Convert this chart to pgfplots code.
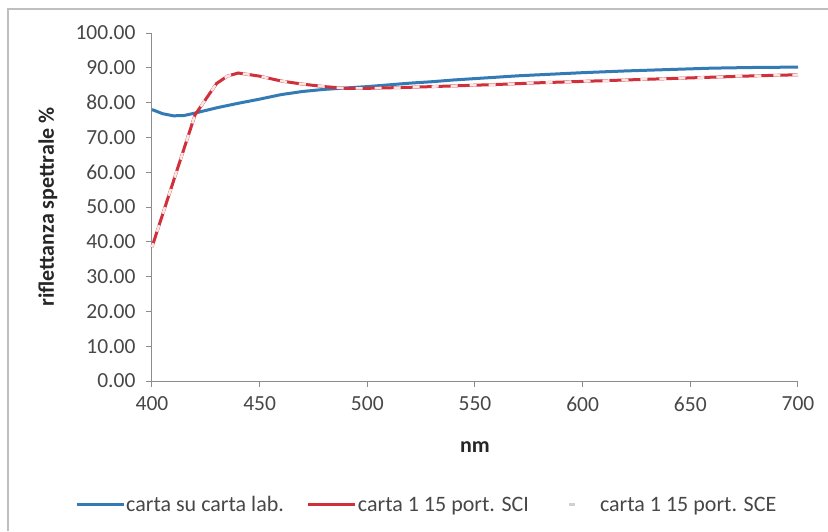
\documentclass[border=0pt]{standalone}
\usepackage{pgfplots}
\pgfplotsset{compat=1.18}
\usepackage{fontspec}
\setmainfont{Carlito}
\definecolor{cblue}{RGB}{52,122,180}
\definecolor{cred}{RGB}{208,48,58}
\definecolor{cpale}{RGB}{252,228,228}
\definecolor{caxis}{RGB}{140,140,140}
\begin{document}
\begin{tikzpicture}
\begin{axis}[
  scale only axis, width=646pt, height=348pt,
  xmin=400, xmax=700, ymin=0, ymax=100,
  xtick={400,450,...,700}, ytick={0,10,...,100},
  axis x line*=bottom, axis y line*=left,
  axis line style={caxis, line width=1pt},
  tick style={caxis, line width=1pt},
  tick align=outside, major tick length=6pt,
  /pgf/number format/assume math mode=true,
  yticklabel style={/pgf/number format/fixed, /pgf/number format/fixed zerofill, /pgf/number format/precision=2, xshift=-7pt},
  xticklabel style={/pgf/number format/fixed, /pgf/number format/1000 sep={}, yshift=-6pt},
  ticklabel style={font=\fontsize{21.5}{24}\selectfont, text=black!72},
  xlabel={nm}, ylabel={riflettanza spettrale \%},
  every axis x label/.style={at={(rel axis cs:0.5,0)}, yshift=-66pt, anchor=center, font=\fontsize{22}{24}\selectfont\bfseries, text=black!85},
  every axis y label/.style={at={(rel axis cs:0,0.5)}, xshift=-104pt, rotate=90, anchor=center, font=\fontsize{22}{24}\selectfont\bfseries, text=black!85},
  clip=false,
  legend columns=3,
  legend style={at={(rel axis cs:-0.1192,-0.3563)}, anchor=west, draw=none, fill=none,
    inner sep=0pt, nodes={inner sep=1pt},
    font=\fontsize{22}{24}\selectfont, text=black!72,
    /tikz/every even column/.append style={column sep=22pt}},
  legend cell align=left,
  legend image code/.code={\draw[#1, line width=3pt] (0pt,0pt) -- (47pt,0pt);},
]
\addplot[cblue, line width=3pt] coordinates {
(400,78.0)(405,76.8)(410,76.2)(415,76.3)(420,77.0)(430,78.5)(440,79.8)(450,81.0)
(460,82.3)(470,83.2)(480,83.8)(490,84.2)(500,84.6)(510,85.1)(520,85.6)(530,86.0)
(540,86.5)(550,86.9)(560,87.3)(570,87.7)(580,88.0)(590,88.3)(600,88.6)(620,89.1)
(640,89.5)(660,89.9)(680,90.1)(700,90.2)};
\addlegendentry{carta su carta lab.}
\addplot[cred, line width=3pt] coordinates {
(400,38.5)(410,57.5)(420,76.5)(430,85.5)(435,87.6)(440,88.5)(450,87.6)(460,86.2)(470,85.3)
(480,84.6)(490,84.1)(500,84.1)(520,84.4)(540,84.8)(560,85.2)(580,85.7)(600,86.1)
(620,86.5)(640,86.9)(660,87.3)(680,87.7)(700,88.0)};
\addlegendentry{carta 1 15 port. SCI}
\addplot[cpale, line width=2.6pt, dash pattern=on 7pt off 12pt, dash phase=3pt,
  legend image code/.code={\path[draw=none] (0pt,0pt) -- (47pt,0pt); \draw[solid, black!18, line width=3pt] (17pt,0pt) -- (23pt,0pt);}] coordinates {
(400,38.5)(410,57.5)(420,76.5)(430,85.5)(435,87.6)(440,88.5)(450,87.6)(460,86.2)(470,85.3)
(480,84.6)(490,84.1)(500,84.1)(520,84.4)(540,84.8)(560,85.2)(580,85.7)(600,86.1)
(620,86.5)(640,86.9)(660,87.3)(680,87.7)(700,88.0)};
\addlegendentry{carta 1 15 port. SCE}
\end{axis}
\useasboundingbox (-152pt,-150pt) rectangle (676pt,381pt);
\draw[black!25, line width=1.5pt] (-144pt,-150pt) -- (-144pt,372pt) -- (676pt,372pt);
\end{tikzpicture}
\end{document}
